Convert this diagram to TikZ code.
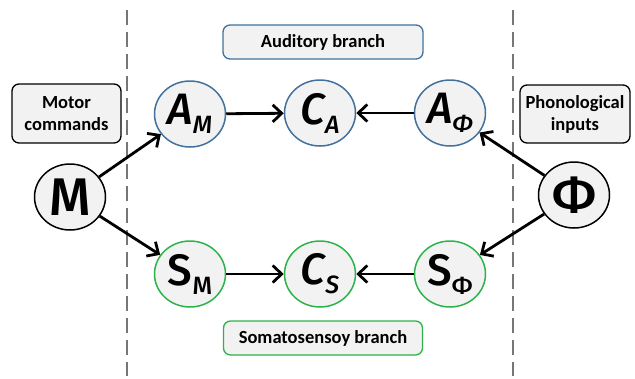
\documentclass[tikz,border=0pt]{standalone}
\usepackage{fontspec}
\setmainfont{Carlito}
\newfontfamily\letterfont{Fira Sans Medium}
\usetikzlibrary{arrows.meta,shapes.geometric}
\definecolor{audblue}{HTML}{41719C}
\definecolor{somgreen}{HTML}{2CB34A}
\definecolor{fillgrey}{HTML}{F2F2F2}
\definecolor{dashgrey}{HTML}{767676}
\tikzset{
  varnode/.style={ellipse, draw, line width=1.5pt, fill=fillgrey, minimum width=71pt, minimum height=66pt, inner sep=0pt, font=\letterfont},
  audnode/.style={varnode, draw=audblue},
  somnode/.style={varnode, draw=somgreen},
  ionode/.style={varnode, draw=black},
  labelbox/.style={draw, rounded corners=7pt, line width=1.3pt, fill=fillgrey, font=\fontsize{18.5}{22}\selectfont\bfseries, align=center, inner sep=0pt},
  conn/.style={line width=2.8pt, -{Straight Barb[length=9pt,width=17pt,line width=2.8pt]}},
  sepline/.style={dashgrey, line width=2.4pt, dash pattern=on 15pt off 7pt}
}
\newcommand{\BigLetter}[1]{\fontsize{44}{44}\selectfont #1}
\newcommand{\HugeLetter}[1]{\fontsize{53}{53}\selectfont #1}
\newcommand{\SubLetter}[1]{\fontsize{25}{25}\selectfont #1}
\begin{document}
\begin{tikzpicture}[x=1pt,y=-1pt]
\useasboundingbox (0,0) rectangle (635,378);
\draw[sepline] (127,10) -- (127,376);
\draw[sepline] (513,10) -- (513,376);

\node[labelbox, minimum width=109pt, minimum height=59pt] (motor) at (66.5,113.5) {Motor\\commands};
\node[labelbox, minimum width=110pt, minimum height=58pt] (phon) at (575,114) {Phonological\\inputs};
\node[labelbox, draw=audblue, minimum width=200pt, minimum height=34pt] (audb) at (323,42) {Auditory branch};
\node[labelbox, draw=somgreen, minimum width=199pt, minimum height=34pt] (somb) at (323,338) {Somatosensoy branch};

\node[ionode] (M) at (70,197) {\HugeLetter{M}};
\node[ionode] (Phi) at (574,195) {\HugeLetter{Φ}};

\node[audnode] (AM) at (190,114) {\BigLetter{\itshape A}\raisebox{-9pt}{\SubLetter{M}}};
\node[audnode] (CA) at (320,113) {\BigLetter{\itshape C}\raisebox{-9pt}{\SubLetter{\itshape A}}};
\node[audnode] (AP) at (450,113) {\BigLetter{\itshape A}\raisebox{-9pt}{\SubLetter{Φ}}};

\node[somnode] (SM) at (190,274) {\BigLetter{S}\raisebox{-9pt}{\SubLetter{M}}};
\node[somnode] (CS) at (320,274) {\BigLetter{\itshape C}\raisebox{-9pt}{\SubLetter{S}}};
\node[somnode] (SP) at (450,274) {\BigLetter{S}\raisebox{-9pt}{\SubLetter{Φ}}};

\draw[conn] (M) -- (AM);
\draw[conn] (M) -- (SM);
\draw[conn] (AM) -- (CA);
\draw[conn] (AP) -- (CA);
\draw[conn] (SM) -- (CS);
\draw[conn] (SP) -- (CS);
\draw[conn] (Phi) -- (AP);
\draw[conn] (Phi) -- (SP);
\end{tikzpicture}
\end{document}
